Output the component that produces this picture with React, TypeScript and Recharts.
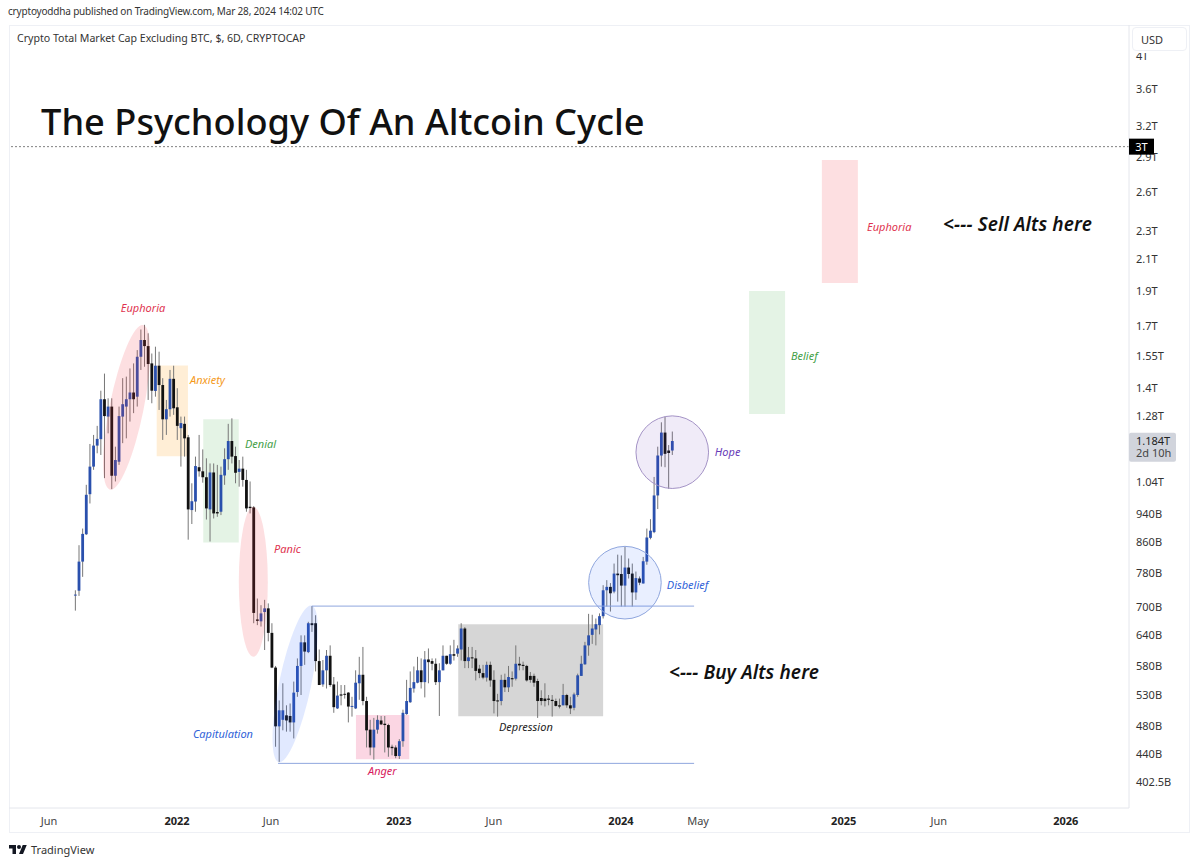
import { Bar, ComposedChart, ReferenceArea, ReferenceDot, ReferenceLine, XAxis, YAxis } from 'recharts';

const FONT = '"Noto Sans", sans-serif';
const UP = '#2a50ad';
const DOWN = '#111111';
const WICK = '#777777';

// 6D candles, values in billions of USD
const opens = [
  726, 737, 808, 881, 1000, 1091, 1166, 1190, 1350, 1278,
  1319, 1060, 1108, 1278, 1319, 1350, 1379, 1361, 1544, 1628,
  1597, 1512, 1386, 1501, 1412, 1267, 1308, 1440, 1316, 1232,
  1249, 1197, 951, 977, 1089, 1075, 1055, 953, 1071, 945,
  946, 1061, 1117, 1183, 1128, 1073, 1084, 1046, 961, 959,
  673, 669, 689, 697, 645, 578, 480, 490, 497, 496,
  486, 535, 581, 626, 607, 665, 665, 590, 548, 573,
  600, 548, 508, 531, 532, 534, 511, 508, 550, 565,
  520, 475, 449, 475, 489, 484, 482, 450, 449, 437,
  458, 499, 518, 541, 551, 573, 552, 593, 590, 585,
  552, 573, 600, 585, 603, 604, 612, 654, 590, 597,
  595, 576, 568, 560, 583, 556, 521, 520, 556, 543,
  559, 558, 585, 583, 581, 563, 563, 554, 525, 524,
  524, 522, 520, 513, 513, 530, 513, 509, 530, 563,
  584, 620, 641, 652, 661, 680, 738, 746, 735, 778,
  777, 749, 793, 778, 733, 766, 754, 808, 871, 887,
  996, 1130, 1215, 1148, 1148,
];
const highs = [
  738, 851, 897, 1030, 1172, 1206, 1241, 1387, 1464, 1354,
  1354, 1162, 1319, 1443, 1450, 1488, 1512, 1577, 1683, 1708,
  1663, 1560, 1594, 1569, 1443, 1347, 1481, 1501, 1398, 1278,
  1278, 1206, 1035, 1126, 1206, 1152, 1120, 1102, 1102, 1097,
  1091, 1156, 1249, 1271, 1162, 1114, 1126, 1080, 1041, 963,
  719, 704, 716, 708, 665, 581, 521, 550, 513, 516,
  553, 595, 640, 640, 668, 702, 682, 612, 592, 611,
  620, 561, 553, 547, 547, 535, 527, 573, 598, 617,
  527, 490, 493, 497, 496, 496, 484, 453, 452, 461,
  506, 556, 571, 580, 598, 595, 609, 614, 595, 595,
  586, 620, 600, 620, 631, 620, 665, 657, 617, 617,
  611, 583, 583, 589, 589, 573, 532, 565, 567, 581,
  571, 620, 598, 589, 583, 570, 567, 558, 538, 550,
  530, 530, 524, 524, 549, 532, 527, 534, 567, 600,
  627, 685, 683, 675, 686, 750, 762, 755, 803, 826,
  824, 847, 816, 803, 783, 771, 820, 897, 924, 1056,
  1162, 1255, 1277, 1168, 1219,
];
const lows = [
  692, 725, 770, 879, 971, 1080, 1138, 1132, 1052, 1212,
  1016, 1041, 1097, 1175, 1193, 1258, 1292, 1319, 1481, 1496,
  1347, 1333, 1361, 1305, 1187, 1206, 1278, 1285, 1187, 1091,
  1126, 866, 910, 946, 1057, 1037, 923, 861, 926, 931,
  936, 1030, 1080, 1102, 1035, 1024, 1024, 946, 941, 665,
  661, 658, 611, 628, 577, 450, 429, 474, 472, 472,
  462, 527, 530, 583, 605, 647, 571, 547, 544, 541,
  544, 501, 507, 513, 524, 486, 495, 507, 522, 513,
  449, 438, 432, 469, 482, 442, 436, 438, 434, 433,
  450, 498, 517, 534, 550, 541, 526, 550, 573, 547,
  496, 573, 583, 583, 591, 598, 591, 577, 577, 577,
  555, 559, 557, 553, 544, 500, 495, 513, 535, 535,
  544, 555, 573, 573, 553, 551, 544, 493, 513, 511,
  513, 495, 511, 508, 513, 509, 499, 505, 527, 563,
  583, 600, 623, 620, 642, 675, 701, 690, 731, 712,
  701, 701, 766, 701, 716, 750, 754, 800, 867, 884,
  954, 1091, 1089, 1017, 1132,
];
const closes = [
  728, 808, 882, 998, 1091, 1166, 1191, 1350, 1280, 1319,
  1060, 1114, 1280, 1329, 1350, 1379, 1350, 1544, 1628, 1597,
  1509, 1387, 1501, 1412, 1267, 1308, 1440, 1312, 1241, 1252,
  1193, 953, 978, 1093, 1075, 1055, 956, 1071, 941, 941,
  1063, 1117, 1183, 1126, 1070, 1084, 1046, 956, 957, 687,
  670, 686, 697, 645, 578, 480, 505, 505, 489, 486,
  534, 581, 626, 608, 665, 661, 590, 547, 573, 600,
  547, 510, 529, 529, 531, 511, 512, 551, 565, 520,
  474, 449, 475, 490, 483, 482, 449, 448, 437, 458,
  501, 520, 542, 552, 573, 552, 593, 588, 585, 552,
  573, 600, 585, 603, 600, 614, 654, 590, 597, 595,
  572, 568, 560, 583, 555, 520, 520, 556, 543, 561,
  557, 585, 582, 581, 555, 556, 551, 520, 520, 520,
  522, 520, 512, 511, 530, 513, 508, 531, 564, 585,
  620, 640, 654, 663, 680, 738, 746, 731, 778, 774,
  749, 793, 777, 733, 767, 756, 809, 872, 891, 996,
  1130, 1215, 1136, 1139, 1183,
];

const priceTicks = [4000, 3600, 3200, 2900, 2600, 2300, 2100, 1900, 1700, 1550, 1400, 1280, 1040, 940, 860, 780, 700, 640, 580, 530, 480, 440, 402.5, 3000, 1184];
const priceLabels = ['4T', '3.6T', '3.2T', '2.9T', '2.6T', '2.3T', '2.1T', '1.9T', '1.7T', '1.55T', '1.4T', '1.28T', '1.04T', '940B', '860B', '780B', '700B', '640B', '580B', '530B', '480B', '440B', '402.5B', '3T', '1.184T'];

// x positions are candle numbers, the time axis runs past the last candle
const timeTicks = [-7.33, 27.83, 53.65, 88.8, 114.9, 149.8, 171, 211, 237.1, 272];
const timeLabels = ['Jun', '2022', 'Jun', '2023', 'Jun', '2024', 'May', '2025', 'Jun', '2026'];

const boxes = [
  { x1: 22.25, x2: 30.85, y1: 1127, y2: 1502, fill: 'rgba(255,152,0,0.16)' },
  { x1: 35.05, x2: 44.8, y1: 858, y2: 1267, fill: 'rgba(76,175,80,0.15)' },
  { x1: 77, x2: 91.65, y1: 432.7, y2: 497.5, fill: 'rgba(233,30,99,0.18)' },
  { x1: 105.1, x2: 144.9, y1: 495.4, y2: 662.7, fill: 'rgba(119,119,119,0.3)' },
  { x1: 185, x2: 194.9, y1: 1288, y2: 1901, fill: 'rgba(76,175,80,0.15)' },
  { x1: 205, x2: 214.9, y1: 1950, y2: 2876, fill: 'rgba(242,54,69,0.16)' },
];

const ellipses = [
  { x: 14, y: 1316, rx: 84, ry: 17, angle: -78.6, fill: 'rgba(242,54,69,0.16)' },
  { x: 48.8, y: 758, rx: 75, ry: 14.5, angle: 90, fill: 'rgba(242,54,69,0.16)' },
  { x: 60.3, y: 549, rx: 80, ry: 16, angle: -78.2, fill: 'rgba(41,98,255,0.14)' },
];

const circles = [
  { x: 150.9, y: 756, fill: 'rgba(41,98,255,0.1)', stroke: '#8fa6de' },
  { x: 163.9, y: 1142, fill: 'rgba(103,58,183,0.1)', stroke: '#a493c6' },
];

const levels = [
  { x1: 64.9, x2: 169.9, y: 702 },
  { x1: 55.6, x2: 169.9, y: 427 },
];

const notes = [
  { text: 'Euphoria', x: 12.4, y: 1801, color: '#e0334f', size: 11 },
  { text: 'Anxiety', x: 31.4, y: 1436, color: '#f59a1c', size: 11 },
  { text: 'Denial', x: 46.5, y: 1173, color: '#43a047', size: 11 },
  { text: 'Panic', x: 54.5, y: 840, color: '#e0334f', size: 11 },
  { text: 'Capitulation', x: 32.2, y: 468, color: '#2f62d8', size: 11 },
  { text: 'Anger', x: 80.3, y: 417, color: '#d81b60', size: 11 },
  { text: 'Depression', x: 116.3, y: 478.5, color: '#222222', size: 11 },
  { text: 'Disbelief', x: 162.4, y: 751, color: '#2f62d8', size: 11 },
  { text: 'Hope', x: 175.6, y: 1143, color: '#673ab7', size: 11 },
  { text: 'Belief', x: 196.5, y: 1545, color: '#43a047', size: 11 },
  { text: 'Euphoria', x: 217.4, y: 2329, color: '#e0334f', size: 11 },
];

const candles = opens.map((open, i) => ({ idx: i, open, high: highs[i], low: lows[i], close: closes[i] }));

function Candle(props: any) {
  const { x, y, width, height, payload } = props;
  const { open, high, low, close } = payload;
  // the bar spans low to high, so place the body on the same log scale
  const yAt = (v: number) => y + (height * Math.log(high / v)) / Math.log(high / low);
  const mid = x + width / 2;
  const top = yAt(Math.max(open, close));
  const bottom = yAt(Math.min(open, close));
  return (
    <g>
      <line x1={mid} x2={mid} y1={y} y2={y + height} stroke={WICK} strokeWidth={1} />
      <rect x={mid - 1.4} y={top} width={2.8} height={Math.max(bottom - top, 1)} fill={close >= open ? UP : DOWN} />
    </g>
  );
}

function PriceTick(props: any) {
  const { x, y, payload } = props;
  const label = priceLabels[priceTicks.indexOf(payload.value)];
  const left = x;
  if (payload.value === 3000) {
    return (
      <g>
        <rect x={left} y={y - 8} width={25} height={16} fill="#000000" />
        <text x={left + 12.5} y={y + 4} textAnchor="middle" fontFamily={FONT} fontSize={11} fill="#ffffff">{label}</text>
      </g>
    );
  }
  if (payload.value === 1184) {
    return (
      <g>
        <rect x={left} y={y - 8} width={47} height={29} rx={2} fill="#d1d4dc" />
        <text x={left + 7} y={y + 4} fontFamily={FONT} fontSize={11} fill="#222222">{label}</text>
        <text x={left + 7} y={y + 16} fontFamily={FONT} fontSize={11} fill="#444444">2d 10h</text>
      </g>
    );
  }
  return <text x={left + 7} y={y + 4} fontFamily={FONT} fontSize={11} fill="#333333">{label}</text>;
}

function TimeTick(props: any) {
  const { x, y, payload } = props;
  const label = timeLabels[timeTicks.indexOf(payload.value)];
  const isYear = label.startsWith('20');
  return (
    <text x={x} y={y + 9} textAnchor="middle" fontFamily={FONT} fontSize={11} fontWeight={isYear ? 700 : 400} fill={isYear ? '#222222' : '#444444'}>
      {label}
    </text>
  );
}

function Note(props: any) {
  const { cx, cy, text, color, size, weight, spacing } = props;
  return (
    <text x={cx} y={cy} dy="0.35em" fontFamily={FONT} fontStyle="italic" fontSize={size} fontWeight={weight} letterSpacing={spacing} fill={color}>
      {text}
    </text>
  );
}

export default function App() {
  return (
    <div style={{ position: 'absolute', left: 0, top: 0, width: 1200, height: 866, background: '#fff', fontFamily: FONT, overflow: 'hidden' }}>
      <div style={{ position: 'absolute', left: 8, top: 4, fontSize: 10, letterSpacing: -0.18, color: '#333' }}>
        cryptoyoddha published on TradingView.com, Mar 28, 2024 14:02 UTC
      </div>
      <div style={{ position: 'absolute', left: 9, top: 25, width: 1181, height: 808, boxSizing: 'border-box', border: '1px solid #eef0f5' }} />
      <ComposedChart
        width={1200}
        height={866}
        data={candles}
        margin={{ top: 25, right: 10, bottom: 33, left: 9 }}
        style={{ position: 'absolute', left: 0, top: 0 }}
      >
        <XAxis
          dataKey="idx"
          type="number"
          domain={[-18.32, 289.38]}
          allowDataOverflow
          ticks={timeTicks}
          interval={0}
          height={25}
          tickLine={false}
          axisLine={{ stroke: '#e4e6ec' }}
          tick={<TimeTick />}
        />
        <YAxis
          orientation="right"
          scale="log"
          domain={[370.8, 4407]}
          allowDataOverflow
          ticks={priceTicks}
          interval={0}
          width={61}
          tickLine={false}
          tickSize={0}
          tickMargin={0}
          axisLine={{ stroke: '#e4e6ec' }}
          tick={<PriceTick />}
        />
        <ReferenceLine y={3000} stroke="#808080" strokeDasharray="2 2" strokeWidth={1} />
        {boxes.map((b, i) => (
          <ReferenceArea key={i} x1={b.x1} x2={b.x2} y1={b.y1} y2={b.y2} fill={b.fill} fillOpacity={1} stroke="none" />
        ))}
        {levels.map((l, i) => (
          <ReferenceLine key={i} segment={[{ x: l.x1, y: l.y }, { x: l.x2, y: l.y }]} stroke="#8fa6de" strokeWidth={1} />
        ))}
        {ellipses.map((e, i) => (
          <ReferenceDot
            key={i}
            x={e.x}
            y={e.y}
            r={1}
            shape={(p: any) => (
              <ellipse cx={p.cx} cy={p.cy} rx={e.rx} ry={e.ry} fill={e.fill} transform={`rotate(${e.angle} ${p.cx} ${p.cy})`} />
            )}
          />
        ))}
        {circles.map((c, i) => (
          <ReferenceDot key={i} x={c.x} y={c.y} r={36.3} fill={c.fill} stroke={c.stroke} strokeWidth={1} />
        ))}
        <Bar dataKey={(d: any) => [d.low, d.high]} barSize={3} shape={<Candle />} isAnimationActive={false} />
        {notes.map((n, i) => (
          <ReferenceDot key={i} x={n.x} y={n.y} r={1} shape={(p: any) => <Note {...p} text={n.text} color={n.color} size={n.size} />} />
        ))}
        <ReferenceDot x={238.3} y={2344} r={1} shape={(p: any) => <Note {...p} text="<--- Sell Alts here" color="#111111" size={19} weight={600} spacing={0.12} />} />
        <ReferenceDot x={163} y={569} r={1} shape={(p: any) => <Note {...p} text="<--- Buy Alts here" color="#111111" size={19} weight={600} spacing={0.1} />} />
        <ReferenceDot
          x={-9.5}
          y={3241}
          r={1}
          shape={(p: any) => (
            <text x={p.cx} y={p.cy} dy="0.35em" fontFamily={FONT} fontSize={36.2} fontWeight={500} fill="#111111">
              The Psychology Of An Altcoin Cycle
            </text>
          )}
        />
      </ComposedChart>
      <div style={{ position: 'absolute', left: 17, top: 31, fontSize: 10.6, color: '#333' }}>
        Crypto Total Market Cap Excluding BTC, $, 6D, CRYPTOCAP
      </div>
      <div style={{ position: 'absolute', left: 1130, top: 26, width: 59, height: 27, background: '#fff' }} />
      <div style={{ position: 'absolute', left: 1132, top: 27, width: 55, height: 24, boxSizing: 'border-box', border: '1px solid #eef0f5', borderRadius: 4, fontSize: 11, lineHeight: '24px', paddingLeft: 8, color: '#333' }}>
        USD
      </div>
      <svg style={{ position: 'absolute', left: 9, top: 843 }} width={18} height={14} viewBox="0 0 36 28">
        <path d="M14 22H7V11H0V4h14v18zM28 22h-8l7.5-18h8L28 22z" fill="#131722" />
        <circle cx={20} cy={8} r={4} fill="#131722" />
      </svg>
      <div style={{ position: 'absolute', left: 31, top: 842, fontSize: 11, color: '#333' }}>TradingView</div>
    </div>
  );
}
